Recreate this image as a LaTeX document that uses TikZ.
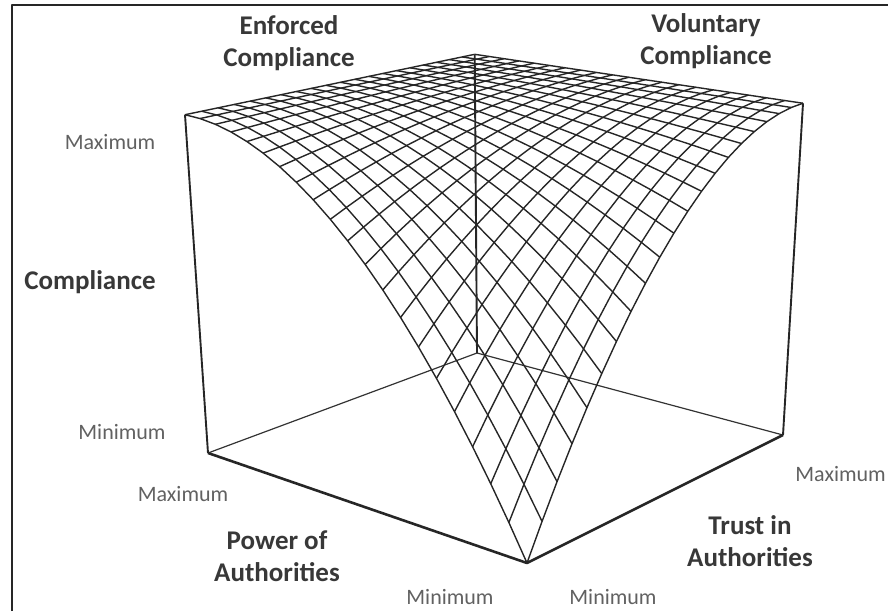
\documentclass[tikz,border=0pt]{standalone}
\usepackage{fontspec}
\setmainfont{Carlito}
\usetikzlibrary{calc}
\begin{document}
\begin{tikzpicture}[x=1pt,y=-1pt,line join=round,
declare function={
  sf(\pp,\qq)=1-(1-\pp)^2*(1-\qq)^2;
  pw(\pp,\qq,\zz)=0.14247*\pp+0.16772*\qq-0.0803*\zz+1;
  px(\pp,\qq,\zz)=(-289.37*\pp+387.33*\qq-41.13*\zz+527)/pw(\pp,\qq,\zz);
  py(\pp,\qq,\zz)=(-45.46*\pp-55.04*\qq-395.7*\zz+563)/pw(\pp,\qq,\zz);
},
frontedge/.style={line width=2.6pt,draw=black!85},
sideedge/.style={line width=1.9pt,draw=black!85},
backedge/.style={line width=1.2pt,draw=black!80},
meshline/.style={line width=1.4pt,draw=black!85},
axlabel/.style={font=\fontsize{27}{32}\selectfont\bfseries,text=black!78,align=center,inner sep=0pt},
endlabel/.style={font=\fontsize{22}{26}\selectfont,text=black!62,inner sep=0pt}
]
\useasboundingbox (0,0) rectangle (888,611);
\draw[line width=2pt,black!85] (12,611)--(12,5)--(888,5);
% corners of the box
\coordinate (fb) at ({px(0,0,0)},{py(0,0,0)});
\coordinate (lb) at ({px(1,0,0)},{py(1,0,0)});
\coordinate (rb) at ({px(0,1,0)},{py(0,1,0)});
\coordinate (bb) at ({px(1,1,0)},{py(1,1,0)});
\coordinate (lt) at ({px(1,0,1)},{py(1,0,1)});
\coordinate (rt) at ({px(0,1,1)},{py(0,1,1)});
\coordinate (bt) at ({px(1,1,1)},{py(1,1,1)});
\draw[backedge] (lb)--(bb)--(rb);
\draw[sideedge] (bb)--(bt);
% surface
\foreach \i [evaluate=\i as \uu using \i/20] in {0,...,20}{
  \draw[meshline] plot[samples=21,domain=0:1,variable=\tt]
    ({px(\uu,\tt,sf(\uu,\tt))},{py(\uu,\tt,sf(\uu,\tt))});
  \draw[meshline] plot[samples=21,domain=0:1,variable=\tt]
    ({px(\tt,\uu,sf(\tt,\uu))},{py(\tt,\uu,sf(\tt,\uu))});
}
\draw[frontedge] (lb)--(fb)--(rb);
\draw[sideedge] (lb)--(lt);
\draw[sideedge] (rb)--(rt);
% labels
\node[axlabel](enforced) at (289,43){Enforced\\Compliance};
\node[axlabel](voluntary) at (706,41){Voluntary\\Compliance};
\node[axlabel](compliance) at (90,282){Compliance};
\node[axlabel](power) at (277,556){Power of\\Authorities};
\node[axlabel](trust) at (750,541){Trust in\\Authorities};
\node[endlabel](zmax) at (110,142){Maximum};
\node[endlabel](zmin) at (122,432){Minimum};
\node[endlabel](pmax) at (183,494){Maximum};
\node[endlabel](pmin) at (450,597){Minimum};
\node[endlabel](tmin) at (613,597){Minimum};
\node[endlabel,anchor=east](tmax) at (886,474){Maximum};
\end{tikzpicture}
\end{document}
